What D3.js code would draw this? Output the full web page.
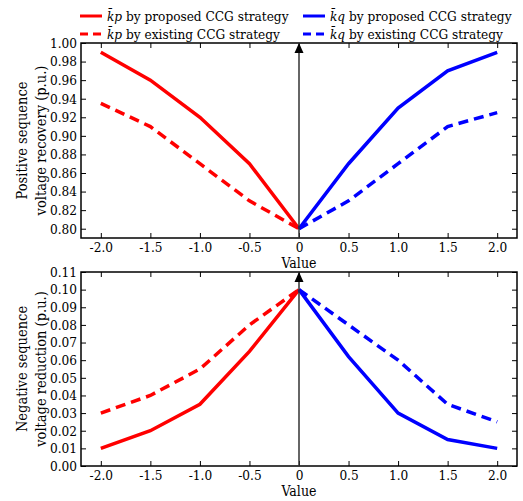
<!DOCTYPE html>
<html><head><meta charset="utf-8">
<script src="https://cdn.jsdelivr.net/npm/d3@7"></script>
<style>body{margin:0;background:#fff}svg text{font-family:"DejaVu Serif Condensed","DejaVu Serif",serif;font-stretch:condensed}</style>
</head><body>
<svg id="c" width="523" height="501"></svg>
<script>
const xValues = [-2.0, -1.5, -1.0, -0.5, 0, 0.5, 1.0, 1.5, 2.0];
const xTickLabels = ["-2.0","-1.5","-1.0","-0.5","0","0.5","1.0","1.5","2.0"];
const kpX = [-2.0, -1.5, -1.0, -0.5, 0];
const kqX = [0, 0.5, 1.0, 1.5, 2.0];
// Positive sequence voltage recovery
const posKpProposed = [0.99, 0.96, 0.92, 0.87, 0.80];
const posKpExisting = [0.935, 0.91, 0.87, 0.83, 0.80];
const posKqProposed = [0.80, 0.87, 0.93, 0.97, 0.99];
const posKqExisting = [0.80, 0.83, 0.87, 0.91, 0.925];
// Negative sequence voltage reduction
const negKpProposed = [0.01, 0.02, 0.035, 0.065, 0.10];
const negKpExisting = [0.03, 0.04, 0.055, 0.08, 0.10];
const negKqProposed = [0.10, 0.062, 0.03, 0.015, 0.01];
const negKqExisting = [0.10, 0.08, 0.06, 0.035, 0.025];
const posTicks = [0.80,0.82,0.84,0.86,0.88,0.90,0.92,0.94,0.96,0.98,1.00];
const negTicks = [0,0.01,0.02,0.03,0.04,0.05,0.06,0.07,0.08,0.09,0.10,0.11];
const legendItems = [
  {v:"p", label:" by proposed CCG strategy", color:"#ff0000", dash:null},
  {v:"p", label:" by existing CCG strategy", color:"#ff0000", dash:"8,5"},
  {v:"q", label:" by proposed CCG strategy", color:"#0000ff", dash:null},
  {v:"q", label:" by existing CCG strategy", color:"#0000ff", dash:"8,5"}
];

const svg = d3.select("#c");
const defs = svg.append("defs");
defs.append("marker").attr("id","arr").attr("viewBox","0 0 10 10").attr("refX",10).attr("refY",5)
  .attr("markerWidth",10).attr("markerHeight",10).attr("markerUnits","userSpaceOnUse").attr("orient","auto")
  .append("path").attr("d","M0,0.5 L10,5 L0,9.5 Z").attr("fill","#000");

const left = 81, right = 517;
const x = d3.scaleLinear().domain([-2.2, 2.2]).range([left, right]);

function panel(top, bottom, domain, ticks, fmt, series, title) {
  const y = d3.scaleLinear().domain(domain).range([bottom, top]);
  const g = svg.append("g");
  const ax = (gen, tr) => g.append("g").attr("transform", tr).call(gen)
    .attr("font-size", 13.5)
    .call(s => s.select(".domain").remove())
    .call(s => s.selectAll("line").attr("stroke","#000").attr("stroke-width",1))
    .call(s => s.selectAll("text").attr("fill","#000"));
  ax(d3.axisLeft(y).tickValues(ticks).tickFormat(fmt).tickSizeInner(-5).tickSizeOuter(0).tickPadding(4), `translate(${left},0)`);
  ax(d3.axisRight(y).tickValues(ticks).tickFormat("").tickSizeInner(-5).tickSizeOuter(0), `translate(${right},0)`);
  ax(d3.axisBottom(x).tickValues(xValues).tickFormat((d,i)=>xTickLabels[i]).tickSizeInner(-5).tickSizeOuter(0).tickPadding(4), `translate(0,${bottom})`);
  ax(d3.axisTop(x).tickValues(xValues).tickFormat("").tickSizeInner(-5).tickSizeOuter(0), `translate(0,${top})`);
  g.append("rect").attr("x",left).attr("y",top).attr("width",right-left).attr("height",bottom-top)
    .attr("fill","none").attr("stroke","#000").attr("stroke-width",1.5);
  const line = d3.line().x(d=>x(d[0])).y(d=>y(d[1]));
  series.forEach(s => {
    g.append("path").datum(s.xs.map((v,i)=>[v,s.ys[i]])).attr("d",line)
      .attr("fill","none").attr("stroke",s.color).attr("stroke-width",3.5)
      .attr("stroke-dasharray",s.dash).attr("stroke-linejoin","miter");
  });
  g.append("line").attr("x1",x(0)).attr("x2",x(0)).attr("y1",bottom).attr("y2",top)
    .attr("stroke","#333").attr("stroke-width",1.5).attr("marker-end","url(#arr)");
  g.append("text").attr("x",x(0)).attr("y",bottom+30).attr("text-anchor","middle").attr("font-size",14).text("Value");
  const cy = (top+bottom)/2;
  const t = g.append("text").attr("transform",`translate(27,${cy}) rotate(-90)`).attr("text-anchor","middle")
    .attr("font-size",14.5);
  t.append("tspan").attr("x",0).attr("dy",0).text(title[0]);
  t.append("tspan").attr("x",0).attr("dy",19).text(title[1]);
}

panel(43, 238, [0.79, 1.00], posTicks, d3.format(".2f"), [
  {xs:kpX, ys:posKpExisting, color:"#ff0000", dash:"10,6"},
  {xs:kqX, ys:posKqExisting, color:"#0000ff", dash:"10,6"},
  {xs:kpX, ys:posKpProposed, color:"#ff0000", dash:null},
  {xs:kqX, ys:posKqProposed, color:"#0000ff", dash:null}
], ["Positive sequence","voltage recovery (p.u.)"]);

panel(272, 466, [0, 0.11], negTicks, d3.format(".2f"), [
  {xs:kpX, ys:negKpExisting, color:"#ff0000", dash:"10,6"},
  {xs:kqX, ys:negKqExisting, color:"#0000ff", dash:"10,6"},
  {xs:kpX, ys:negKpProposed, color:"#ff0000", dash:null},
  {xs:kqX, ys:negKqProposed, color:"#0000ff", dash:null}
], ["Negative sequence","voltage reduction (p.u.)"]);

const legPos = [[80,16],[80,34],[303,16],[303,34]];
legendItems.forEach((it,i)=>{
  const [lx,ly] = legPos[i];
  svg.append("line").attr("x1",lx).attr("x2",lx+22).attr("y1",ly).attr("y2",ly)
    .attr("stroke",it.color).attr("stroke-width",3).attr("stroke-dasharray",it.dash);
  const t = svg.append("text").attr("x",lx+27).attr("y",ly+5).attr("font-size",13.5);
  t.append("tspan").attr("font-style","italic").text("k\u0304"+it.v);
  t.append("tspan").text(it.label);
});
</script>
</body></html>
